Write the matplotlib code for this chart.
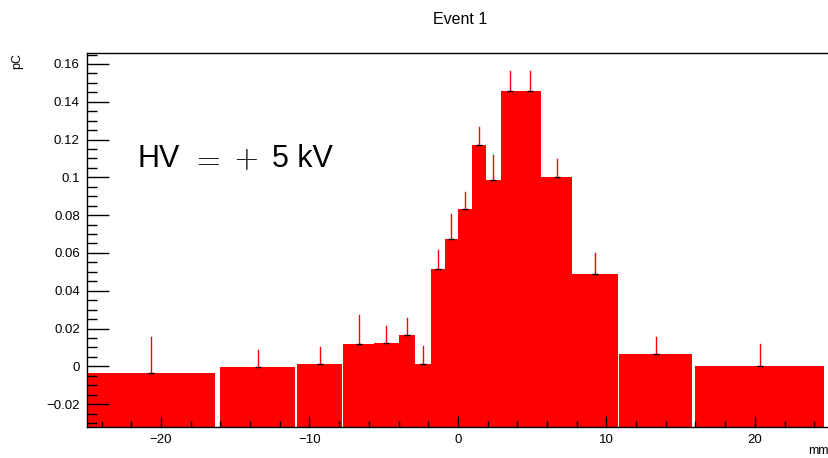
import matplotlib
matplotlib.use("Agg")
import matplotlib.pyplot as plt
from matplotlib.ticker import MultipleLocator

plt.rcParams['font.family'] = ['Liberation Sans', 'DejaVu Sans']
plt.rcParams['mathtext.fontset'] = 'cm'

# charge per strip, variable strip widths (mm); None = no strip (gap)
bin_lo = [-25.0, -16.33, -16.0, -10.97, -10.82, -7.80, -7.71, -5.65, -3.97, -2.88,
          -1.84, -0.90, 0.00, 0.96, 1.91, 2.88, 4.10, 5.60, 7.70, 10.77, 10.88,
          15.76, 15.98]
bin_hi = [-16.33, -16.0, -10.97, -10.82, -7.80, -7.71, -5.65, -3.97, -2.88, -1.84,
          -0.90, 0.00, 0.96, 1.91, 2.88, 4.10, 5.60, 7.70, 10.77, 10.88, 15.76,
          15.98, 24.68]
charge = [-0.0036, None, -0.0005, None, 0.0012, None, 0.0120, 0.0125, 0.0166, 0.0010,
          0.0517, 0.0676, 0.0832, 0.1170, 0.0986, 0.1459, 0.1459, 0.1000, 0.0490, None,
          0.0064, None, 0.0003]
charge_err = [0.0190, None, 0.0092, None, 0.0090, None, 0.0150, 0.0088, 0.0090, 0.0096,
              0.0097, 0.0132, 0.0090, 0.0096, 0.0134, 0.0103, 0.0103, 0.0095, 0.0112, None,
              0.0093, None, 0.0113]

ymin, ymax = -0.0321, 0.1658

fig = plt.figure(figsize=(8.29, 4.58), dpi=100)
ax = fig.add_axes([86.7 / 829, 31 / 458, 742.4 / 829, 374 / 458])

for lo, hi, q, e in zip(bin_lo, bin_hi, charge, charge_err):
    if q is None:
        continue
    # ROOT style fill: from the bottom of the frame up to the bin content
    ax.bar(lo, q - ymin, width=hi - lo, bottom=ymin, align='edge',
           color='#ff0000', linewidth=0, zorder=1)
    xc = 0.5 * (lo + hi)
    ax.plot([xc, xc], [q - e, q + e], color='#ff0000', lw=1.0, zorder=2)
    ax.plot([xc], [q], marker='_', color='black', markersize=4, mew=1.0, zorder=3)

ax.set_xlim(-25, 25)
ax.set_ylim(ymin, ymax)
ax.spines['right'].set_visible(False)
for s in ax.spines.values():
    s.set_linewidth(1.0)

ax.xaxis.set_major_locator(MultipleLocator(10))
ax.xaxis.set_minor_locator(MultipleLocator(2))
ax.yaxis.set_major_locator(MultipleLocator(0.02))
ax.yaxis.set_minor_locator(MultipleLocator(0.005))
ax.tick_params(axis='x', which='major', direction='in', length=8, width=1,
               labelsize=9.5, pad=5, top=False)
ax.tick_params(axis='x', which='minor', direction='in', length=4, width=1, top=False)
ax.tick_params(axis='y', which='major', direction='in', length=16, width=1,
               labelsize=9.5, pad=5, right=False)
ax.tick_params(axis='y', which='minor', direction='in', length=7.5, width=1, right=False)
ax.yaxis.set_major_formatter(plt.FuncFormatter(
    lambda v, p: ('%g' % round(v, 3)).replace('-', '\u2212')))

# HV label: sans letters, wide math-style "=" and "+"
ax.text(-21.6, 0.1057, 'HV', fontsize=22, va='baseline', ha='left')
ax.text(-17.95, 0.1057, r'$=$', fontsize=22, va='baseline', ha='left')
ax.text(-15.05, 0.1057, r'$+$', fontsize=22, va='baseline', ha='left')
ax.text(-12.5, 0.1057, '5 kV', fontsize=22, va='baseline', ha='left')

fig.text(460 / 829, 1 - 20 / 458, 'Event 1', ha='center', va='center', fontsize=11.5)
fig.text(17 / 829, 1 - 61 / 458, 'pC', rotation=90, ha='center', va='center', fontsize=9)
fig.text(1.0, 1 - 451 / 458, 'mm', ha='right', va='center', fontsize=9)

fig.savefig('out.png', dpi=100)
